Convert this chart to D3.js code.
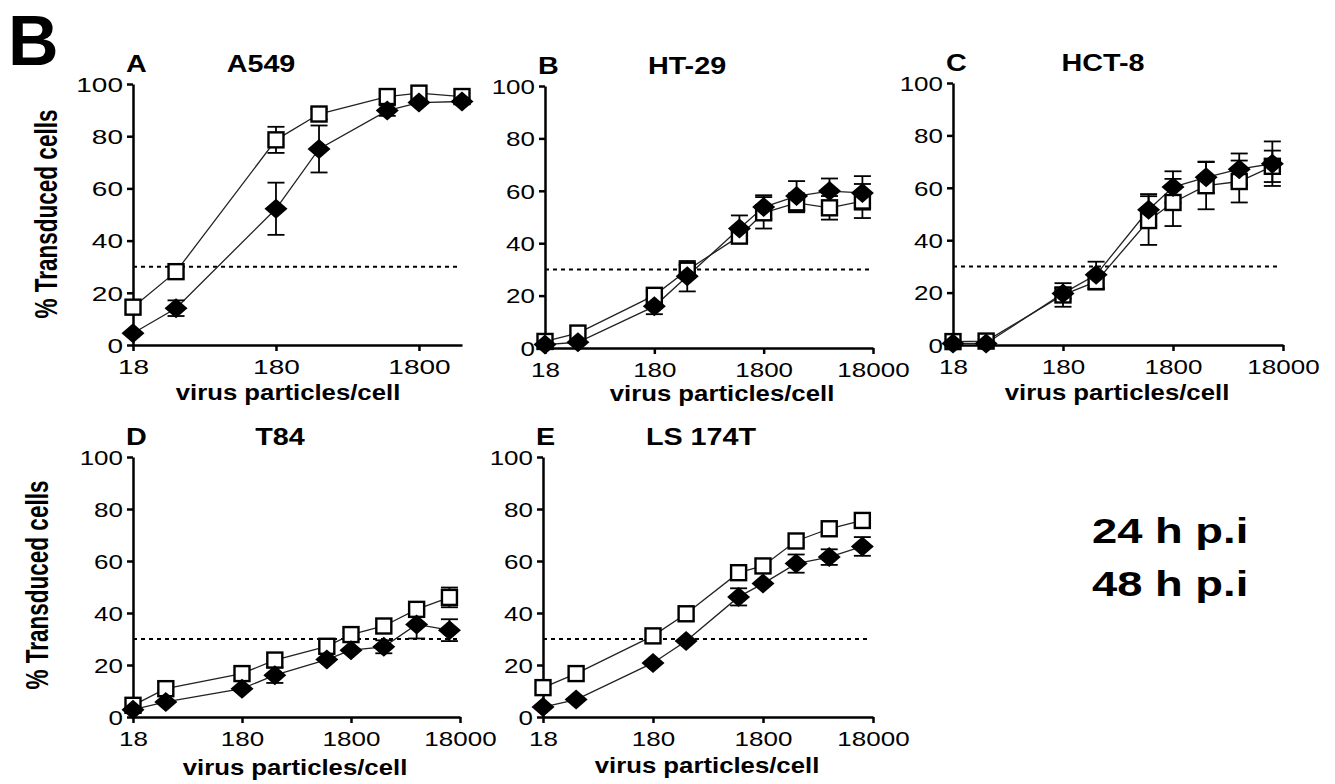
<!DOCTYPE html>
<html lang="en">
<head>
    <meta charset="UTF-8">
    <title>Transduction by virus dose</title>
    <script src="https://d3js.org/d3.v7.min.js"></script>
    <style>
        body { margin: 0; background: #fff; }
        text { font-family: "Liberation Sans", Arial, Helvetica, sans-serif; fill: #000; }
    </style>
</head>
<body>
    <div id="chart"></div>
    <script>
        // Doses (virus particles/cell) used in every panel
        const doses = [18, 36, 180, 360, 1080, 1800, 3600, 7200, 14400];
        const panelLetters = ["A", "B", "C", "D", "E"];
        const cellLines = ["A549", "HT-29", "HCT-8", "T84", "LS 174T"];
        const legendLabels = ["24 h p.i", "48 h p.i"];
        const yTicks = [0, 20, 40, 60, 80, 100];
        const xTicksShort = [18, 180, 1800];
        const xTicksLong = [18, 180, 1800, 18000];
        const threshold = 30;

        // % transduced cells, open squares / filled diamonds, with SEM (0 = hidden by marker)
        const a549Open = [14.5, 28.1, 78.6, 88.5, 95.2, 96.5, 95.2];
        const a549OpenErr = [0, 0, 5, 2, 0, 0, 0];
        const a549Filled = [4.5, 14.1, 52.2, 75.1, 89.8, 92.9, 93.3];
        const a549FilledErr = [0, 3, 10, 9, 2, 0, 0];

        const ht29Open = [2.5, 5.7, 20.1, 29.7, 42.7, 51.6, 55.4, 53.5, 56.1];
        const ht29OpenErr = [0, 0, 1.5, 2, 2, 6, 3.6, 4.5, 6.5];
        const ht29Filled = [1.3, 2.2, 15.9, 27.4, 45.6, 53.8, 58.0, 59.9, 59.2];
        const ht29FilledErr = [0, 0, 3, 5.8, 5, 4.5, 5.7, 4.8, 6.4];

        const hct8Open = [1.3, 1.5, 19.1, 24.2, 47.5, 54.4, 60.8, 62.4, 68.2];
        const hct8OpenErr = [0, 0, 4.5, 3, 9.3, 9, 9, 8, 6];
        const hct8Filled = [0.6, 0.6, 19.7, 26.8, 51.6, 60.3, 64.0, 67.1, 69.2];
        const hct8FilledErr = [0, 0, 2, 5, 6, 6, 6, 6, 8.5];

        const t84Open = [4.5, 10.9, 16.7, 21.9, 27.2, 31.7, 35.0, 41.4, 46.0];
        const t84OpenErr = [0, 0, 0, 0, 0, 0, 0, 1.5, 3.8];
        const t84Filled = [2.8, 5.8, 10.9, 16.1, 22.1, 25.7, 27.0, 35.6, 33.4];
        const t84FilledErr = [0, 0, 0, 3, 0, 0, 2.5, 5.4, 4.2];

        const ls174tOpen = [11.3, 16.7, 31.2, 39.7, 55.5, 58.1, 67.7, 72.4, 75.6];
        const ls174tOpenErr = [0, 0, 0, 0, 2, 0, 0, 0, 0];
        const ls174tFilled = [3.8, 6.7, 20.8, 29.2, 46.2, 51.3, 59.0, 61.5, 65.6];
        const ls174tFilledErr = [0, 0, 0, 0, 3.3, 0, 3.5, 3, 3.6];

        const openSeries = [a549Open, ht29Open, hct8Open, t84Open, ls174tOpen];
        const openErrs = [a549OpenErr, ht29OpenErr, hct8OpenErr, t84OpenErr, ls174tOpenErr];
        const filledSeries = [a549Filled, ht29Filled, hct8Filled, t84Filled, ls174tFilled];
        const filledErrs = [a549FilledErr, ht29FilledErr, hct8FilledErr, t84FilledErr, ls174tFilledErr];

        // Panel layout (pixels)
        const layout = [
            {left: 133, right: 462, top: 84, bottom: 345, xMax: 3600, ticks: xTicksShort, titleX: 261, labelX: 288, labelY: 400, tsx: 1.4},
            {left: 545, right: 873, top: 86, bottom: 348, xMax: 18000, ticks: xTicksLong, titleX: 687, labelX: 722, labelY: 401, tsx: 1.3},
            {left: 953, right: 1283, top: 83, bottom: 345, xMax: 18000, ticks: xTicksLong, titleX: 1103, labelX: 1117, labelY: 400, tsx: 1.3},
            {left: 133, right: 460, top: 457, bottom: 717, xMax: 18000, ticks: xTicksLong, titleX: 280, labelX: 295, labelY: 775, tsx: 1.3},
            {left: 543, right: 873, top: 457, bottom: 717, xMax: 18000, ticks: xTicksLong, titleX: 701, labelX: 707, labelY: 773, tsx: 1.3}
        ];
        const yLabels = [{x: 57, y: 214}, {x: 48, y: 585}];

        const sx = 1.25; // the figure is stretched horizontally

        const svg = d3.select("#chart").append("svg")
            .attr("width", 1335)
            .attr("height", 784);

        // Big figure letter
        svg.append("text")
            .attr("x", 8).attr("y", 65)
            .style("font-size", "70px").style("font-weight", "bold")
            .text("B");

        // Y axis titles, one per row
        yLabels.forEach(p => {
            svg.append("text")
                .attr("transform", `translate(${p.x},${p.y}) rotate(-90) scale(1,1.38)`)
                .attr("text-anchor", "middle")
                .style("font-size", "22.5px").style("font-weight", "bold")
                .text("% Transduced cells");
        });

        const diamond = "M0,-10L11.5,0L0,10L-11.5,0Z";

        layout.forEach((L, i) => {
            const x = d3.scaleLog().domain([18, L.xMax]).range([L.left, L.right]);
            const y = d3.scaleLinear().domain([0, 100]).range([L.bottom, L.top]);
            const g = svg.append("g");

            // Titles
            g.append("text")
                .attr("transform", `translate(${L.left - 7},${L.top - 12}) scale(${sx},1)`)
                .style("font-size", "23px").style("font-weight", "bold")
                .text(panelLetters[i]);
            g.append("text")
                .attr("transform", `translate(${L.titleX},${L.top - 12}) scale(${sx},1)`)
                .attr("text-anchor", "middle")
                .style("font-size", "23px").style("font-weight", "bold")
                .text(cellLines[i]);

            // Dashed 30% threshold
            g.append("line")
                .attr("x1", x(18)).attr("x2", x(L.xMax) - 3)
                .attr("y1", y(threshold)).attr("y2", y(threshold))
                .attr("stroke", "#000").attr("stroke-width", 2)
                .attr("stroke-dasharray", "4,4");

            // Axes
            const yAxis = g.append("g")
                .attr("transform", `translate(${L.left},0)`)
                .call(d3.axisLeft(y).tickValues(yTicks).tickSize(6).tickSizeOuter(0));
            yAxis.selectAll("text")
                .attr("x", null).attr("dy", "0.36em")
                .attr("transform", `translate(-10,0) scale(${L.tsx},1)`)
                .style("font-size", "20px");

            const xAxis = g.append("g")
                .attr("transform", `translate(0,${L.bottom})`)
                .call(d3.axisBottom(x).tickValues(L.ticks).tickFormat(d3.format("d")).tickSize(6).tickSizeOuter(0));
            xAxis.selectAll("text")
                .attr("y", null).attr("dy", null)
                .attr("transform", `translate(0,29) scale(${L.tsx},1)`)
                .style("font-size", "20px");

            [yAxis, xAxis].forEach(a => {
                a.select(".domain").attr("stroke-width", 2.5);
                a.selectAll(".tick line").attr("stroke-width", 2.5);
            });

            g.append("text")
                .attr("transform", `translate(${L.labelX},${L.labelY}) scale(1.17,1)`)
                .attr("text-anchor", "middle")
                .style("font-size", "22px").style("font-weight", "bold")
                .text("virus particles/cell");

            // Build point sets
            const n = openSeries[i].length;
            const open = d3.range(n).map(k => ({dose: doses[k], v: openSeries[i][k], e: openErrs[i][k]}));
            const filled = d3.range(n).map(k => ({dose: doses[k], v: filledSeries[i][k], e: filledErrs[i][k]}));

            const line = d3.line().x(d => x(d.dose)).y(d => y(d.v));

            [open, filled].forEach(pts => {
                g.append("path")
                    .datum(pts)
                    .attr("fill", "none")
                    .attr("stroke", "#222")
                    .attr("stroke-width", 1.3)
                    .attr("d", line);

                // Error bars
                const eb = g.selectAll(null)
                    .data(pts.filter(d => d.e > 0))
                    .enter().append("g")
                    .attr("stroke", "#000").attr("stroke-width", 1.8);
                eb.append("line")
                    .attr("x1", d => x(d.dose)).attr("x2", d => x(d.dose))
                    .attr("y1", d => y(d.v - d.e)).attr("y2", d => y(d.v + d.e));
                eb.append("line")
                    .attr("x1", d => x(d.dose) - 8.5).attr("x2", d => x(d.dose) + 8.5)
                    .attr("y1", d => y(d.v - d.e)).attr("y2", d => y(d.v - d.e));
                eb.append("line")
                    .attr("x1", d => x(d.dose) - 8.5).attr("x2", d => x(d.dose) + 8.5)
                    .attr("y1", d => y(d.v + d.e)).attr("y2", d => y(d.v + d.e));
            });

            // Open squares
            g.selectAll(".sq")
                .data(open)
                .enter().append("rect")
                .attr("class", "sq")
                .attr("x", d => x(d.dose) - 7.5)
                .attr("y", d => y(d.v) - 7.5)
                .attr("width", 15).attr("height", 15)
                .attr("fill", "#fff")
                .attr("stroke", "#000").attr("stroke-width", 2.4);

            // Filled diamonds
            g.selectAll(".dm")
                .data(filled)
                .enter().append("path")
                .attr("class", "dm")
                .attr("d", diamond)
                .attr("transform", d => `translate(${x(d.dose)},${y(d.v)})`)
                .attr("fill", "#000");
        });

        // Legend text (symbols are absent in the original)
        legendLabels.forEach((t, k) => {
            svg.append("text")
                .attr("transform", `translate(1092,${543 + k * 53}) scale(1.26,1)`)
                .style("font-size", "36px").style("font-weight", "bold")
                .text(t);
        });
    </script>
</body>
</html>
